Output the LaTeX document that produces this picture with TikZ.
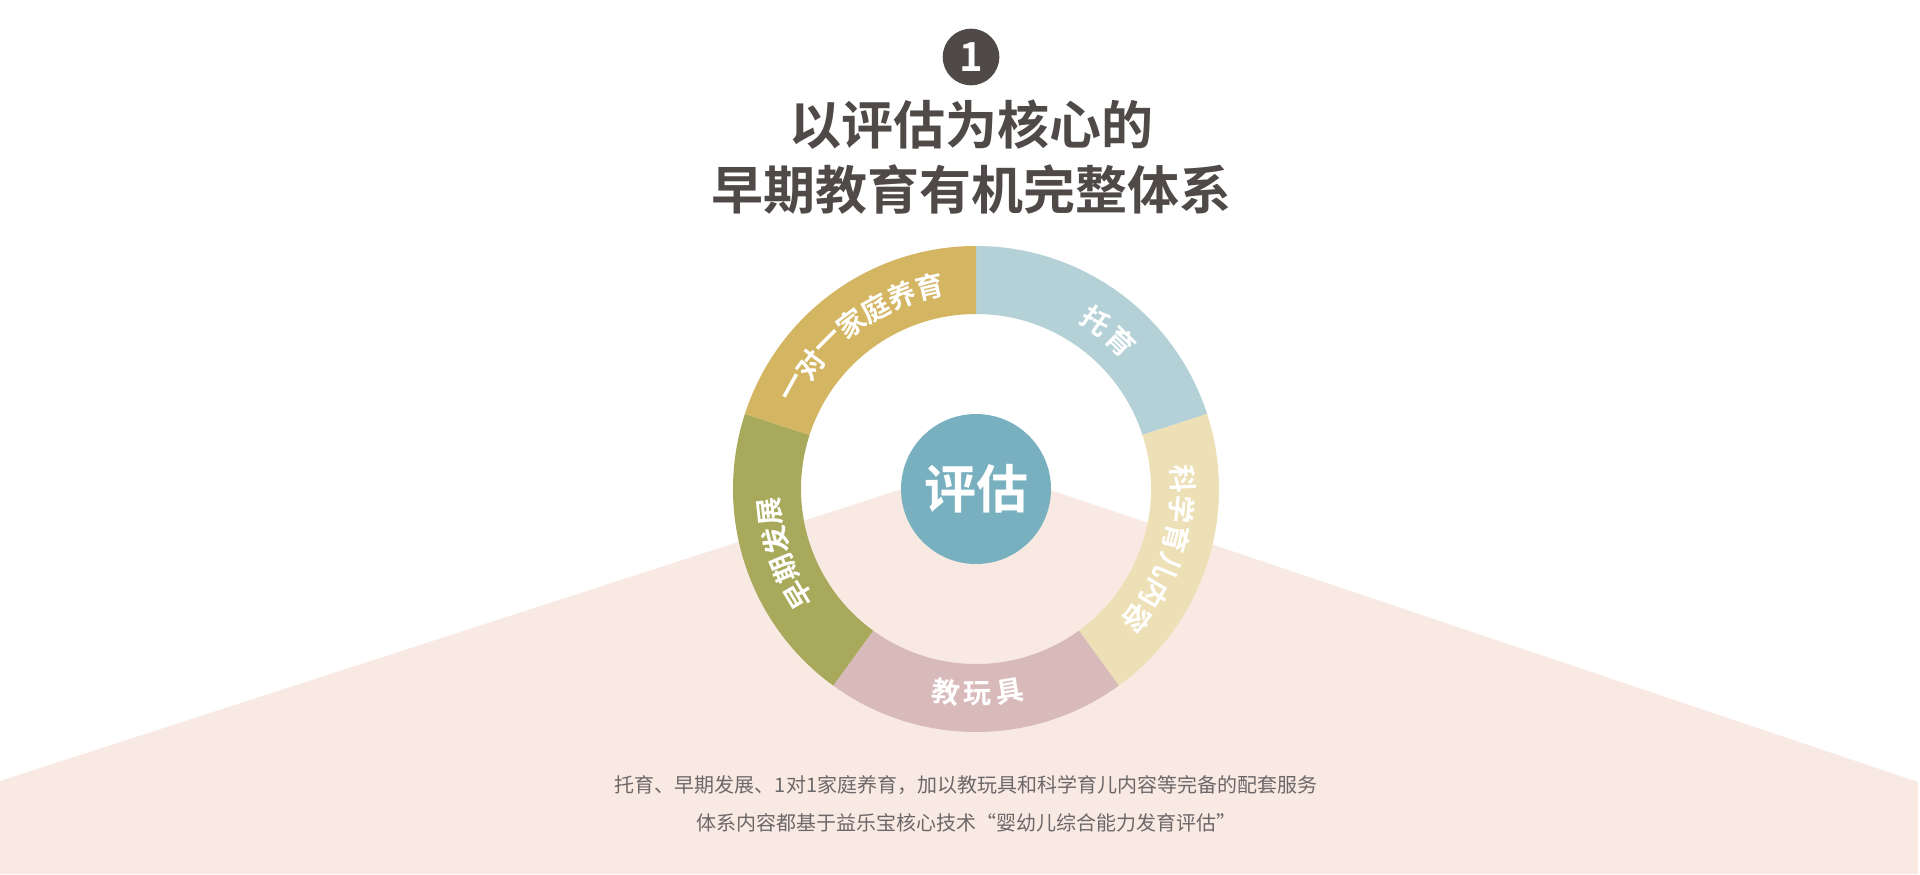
\documentclass[tikz,border=0pt]{standalone}
\usepackage{fontspec}
\newfontfamily\cjk{Noto Sans CJK SC}[UprightFont=*, BoldFont=* Bold]
\definecolor{cBg}{HTML}{F9E9E3}
\definecolor{cTuo}{HTML}{B3D1D6}
\definecolor{cKe}{HTML}{EDE0B7}
\definecolor{cJiao}{HTML}{D9BABB}
\definecolor{cZao}{HTML}{A8A95B}
\definecolor{cYi}{HTML}{D4B562}
\definecolor{cCenter}{HTML}{78B0BF}
\definecolor{cTitle}{HTML}{4F4A48}
\definecolor{cText}{HTML}{6D6868}
\tikzset{
  lbl/.style={text=white, inner sep=0pt, font=\cjk\bfseries\fontsize{14pt}{14pt}\selectfont},
  titletext/.style={text=cTitle, inner sep=0pt, font=\cjk\bfseries\fontsize{26pt}{26pt}\selectfont},
  bodytext/.style={text=cText, inner sep=0pt, font=\cjk\fontsize{10pt}{10pt}\selectfont}
}
\begin{document}
\begin{tikzpicture}[x=0.5pt,y=0.5pt]
\useasboundingbox (0,0) rectangle (1920,874);
\fill[white] (0,0) rectangle (1920,874);
% pink background wedge
\fill[cBg] (0,93) -- (976,409) -- (1918,92) -- (1918,0) -- (0,0) -- cycle;
\coordinate (C) at (976,385);
% ring segments
\foreach \a/\col [evaluate=\a as \b using \a+72] in {18/cTuo,-54/cKe,-126/cJiao,162/cZao,90/cYi}{
  \fill[\col] ([shift={(\a:243)}]C) arc[start angle=\a, end angle=\b, radius=243]
    -- ([shift={(\b:175)}]C) arc[start angle=\b, end angle=\a, radius=175] -- cycle;
}
% centre
\node[circle, fill=cCenter, minimum size=75pt, inner sep=0pt, text=white,
  font=\cjk\bfseries\fontsize{26pt}{26pt}\selectfont] (center) at (C) {评估};
% labels: clockwise, tops outward
\foreach \c/\a [count=\i] in {托/54.5,育/45.5}{
  \node[lbl, rotate=\a-90] (tuo\i) at ([shift={(\a:207)}]C) {\c};
}
\foreach \c/\a [count=\i] in {科/2.75,学/-5.55,育/-13.85,儿/-22.15,内/-30.45,容/-38.75}{
  \node[lbl, rotate=\a-90] (ke\i) at ([shift={(\a:207)}]C) {\c};
}
\foreach \c/\a [count=\i] in {早/210.8,期/202.6,发/194.4,展/186.2}{
  \node[lbl, rotate=\a-90] (zao\i) at ([shift={(\a:207)}]C) {\c};
}
\foreach \c/\a [count=\i] in {一/151,对/143,一/135,家/127,庭/119,养/111,育/103}{
  \node[lbl, rotate=\a-90] (yi\i) at ([shift={(\a:207)}]C) {\c};
}
% labels: counter-clockwise at bottom, tops inward
\foreach \c/\a [count=\i] in {教/-98.5,玩/-89.5,具/-80.5}{
  \node[lbl, rotate=\a+90] (jiao\i) at ([shift={(\a:205)}]C) {\c};
}
% title
\node[circle, fill=cTitle, minimum size=28.3pt, inner sep=0pt, text=white,
  font=\cjk\bfseries\fontsize{20pt}{20pt}\selectfont] (num) at (971,817) {1};
\node[titletext] (t1) at (971,749) {以评估为核心的};
\node[titletext] (t2) at (971,684) {早期教育有机完整体系};
% body text
\node[bodytext] (b1) at (966,89) {托育、早期发展、1对1家庭养育，加以教玩具和科学育儿内容等完备的配套服务};
\node[bodytext] (b2) at (966,51) {体系内容都基于益乐宝核心技术“婴幼儿综合能力发育评估”};
\end{tikzpicture}
\end{document}
